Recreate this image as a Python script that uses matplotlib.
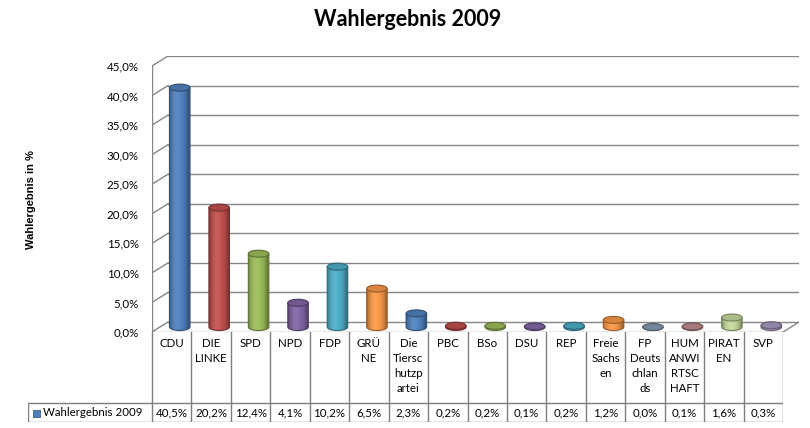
import numpy as np
import matplotlib.pyplot as plt
from matplotlib.patches import Ellipse, PathPatch, Rectangle
from matplotlib.path import Path
from matplotlib.ticker import FuncFormatter
from matplotlib.colors import to_rgb

parties = ["CDU", "DIE\nLINKE", "SPD", "NPD", "FDP", "GRÜ\nNE", "Die\nTiersc\nhutzp\nartei",
           "PBC", "BSo", "DSU", "REP", "Freie\nSachs\nen", "FP\nDeuts\nchlan\nds",
           "HUM\nANWI\nRTSC\nHAFT", "PIRAT\nEN", "SVP"]
results = [40.5, 20.2, 12.4, 4.1, 10.2, 6.5, 2.3, 0.2, 0.2, 0.1, 0.2, 1.2, 0.0, 0.1, 1.6, 0.3]
series_name = "Wahlergebnis 2009"
colors = ["#4F81BD", "#C0504D", "#9BBB59", "#8064A2", "#4BACC6", "#F79646",
          "#4F81BD", "#C0504D", "#9BBB59", "#8064A2", "#4BACC6", "#F79646",
          "#8497B0", "#B98A89", "#C3D69B", "#A698BE"]
yticks = list(range(0, 50, 5))

W, H = 810, 428
fig = plt.figure(figsize=(8.1, 4.28), dpi=100)
fig.patch.set_facecolor("white")

# pixel geometry of the excel-like 3d box
col_px = 39.44
px_per_pct = 5.91
DX = 16 / col_px        # depth shift in category units
DY = 10 / px_per_pct    # depth shift in percent units
n = len(parties)
grid_c = "#868686"

ax = fig.add_axes([152 / W, 96 / H, (n * col_px + 16) / W, 276 / H])
ax.set_xlim(0, n + DX)
ax.set_ylim(0, 45 + DY)
for s in ax.spines.values():
    s.set_visible(False)
ax.set_xticks([])
ax.set_yticks(yticks)
ax.yaxis.set_major_formatter(FuncFormatter(lambda v, p: f"{v:.1f}".replace(".", ",") + "%"))
ax.tick_params(axis="y", length=0, pad=9.5, labelsize=8.3)
for lab in ax.get_yticklabels():
    lab.set_family("Lato")

# walls and gridlines
for t in yticks:
    ax.plot([DX, n + DX], [t + DY, t + DY], color=grid_c, lw=1, zorder=1)
    ax.plot([0, DX], [t, t + DY], color=grid_c, lw=1, zorder=1)
ax.plot([0, 0], [0, 45], color=grid_c, lw=1, zorder=1)
ax.plot([0, n], [0, 0], color=grid_c, lw=1, zorder=5)
ax.plot([n, n + DX], [0, DY], color=grid_c, lw=1, zorder=5)

# cylinders
cw = 0.52
eh = 7 / px_per_pct
tt = np.linspace(0, 1, 64)
shade = 0.66 + 0.36 * np.sin(np.pi * np.clip(tt * 1.1, 0, 1)) ** 0.6
hl = 0.08 * np.exp(-((tt - 0.33) / 0.18) ** 2)

for i, (v, c) in enumerate(zip(results, colors)):
    base = np.array(to_rgb(c))
    cx = i + 0.5 + DX / 2
    y0 = DY / 2
    y1 = y0 + v
    dark = base * 0.6
    ang = np.linspace(np.pi, 2 * np.pi, 40)
    arc = np.column_stack([cx + cw / 2 * np.cos(ang), y0 + eh / 2 * np.sin(ang)])
    verts = np.vstack([[cx - cw / 2, y1], arc, [cx + cw / 2, y1], [cx - cw / 2, y1]])
    codes = [Path.MOVETO] + [Path.LINETO] * (len(verts) - 2) + [Path.CLOSEPOLY]
    body = PathPatch(Path(verts, codes), facecolor="none", edgecolor="none")
    ax.add_patch(body)
    grad = np.clip(base[None, :] * shade[:, None] * (1 - hl[:, None]) + hl[:, None], 0, 1)
    im = ax.imshow(grad[None, :, :], extent=(cx - cw / 2, cx + cw / 2, y0 - eh / 2, y1),
                   aspect="auto", zorder=3, interpolation="bilinear")
    im.set_clip_path(body)
    ax.add_patch(PathPatch(Path(verts, codes), facecolor="none", edgecolor=dark, lw=0.8, zorder=4))
    top = np.clip(base * 0.88, 0, 1)
    ax.add_patch(Ellipse((cx, y1), cw, eh, facecolor=top, edgecolor=dark, lw=0.8, zorder=4))

# data table
tab_left = 28
tab = fig.add_axes([tab_left / W, 6 / H, (152 - tab_left + n * col_px) / W, 90 / H])
x0 = -(152 - tab_left) / col_px
tab.set_xlim(x0, n)
tab.set_ylim(90, 0)
tab.axis("off")
line_c = "#7f7f7f"
for k in range(n + 1):
    tab.plot([k, k], [0, 90], color=line_c, lw=1)
tab.plot([x0, x0], [71, 90], color=line_c, lw=1)
tab.plot([x0, n], [71, 71], color=line_c, lw=1)
tab.plot([x0, n], [90, 90], color=line_c, lw=1)
for k, (p, v) in enumerate(zip(parties, results)):
    tab.text(k + 0.5, 6, p, ha="center", va="top", fontsize=8.3, family="Lato", linespacing=1.45)
    tab.text(k + 0.5, 81, f"{v:.1f}".replace(".", ",") + "%", ha="center", va="center",
             fontsize=8.3, family="Lato")
tab.add_patch(Rectangle((x0 + 5 / col_px, 77.5), 7 / col_px, 7, facecolor=colors[0],
                        edgecolor="#3a5f8c", lw=0.6))
tab.text(x0 + 15 / col_px, 81, series_name, ha="left", va="center", fontsize=8.3, family="Lato")

fig.text(408 / W, 1 - 20 / H, "Wahlergebnis 2009", ha="center", va="center",
         fontsize=15.5, fontweight="bold", family="Lato")
fig.text(31 / W, 1 - 200 / H, "Wahlergebnis in %", ha="center", va="center", rotation=90,
         fontsize=8, fontweight="bold", family="Liberation Sans")

fig.savefig("out.png", dpi=100)
